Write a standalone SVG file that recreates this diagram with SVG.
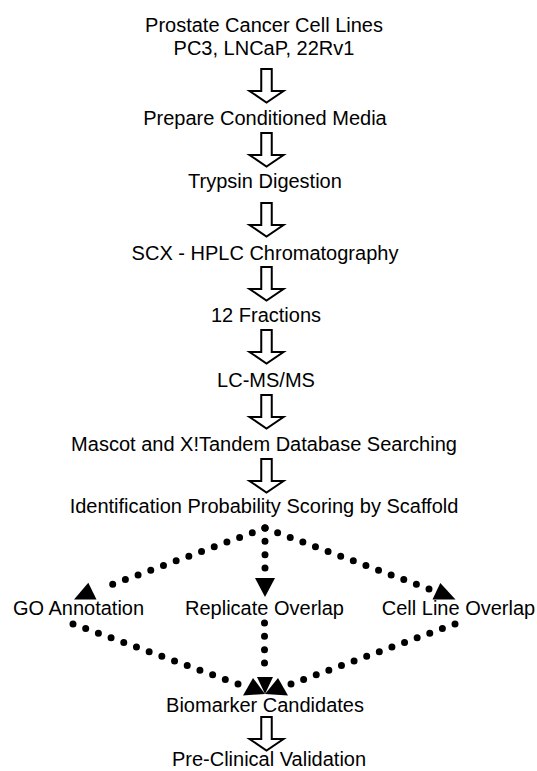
<svg xmlns="http://www.w3.org/2000/svg" width="537" height="771" viewBox="0 0 537 771">
<style>
text{font-family:"Liberation Sans",Arial,sans-serif;font-size:20px;fill:#000;text-anchor:middle}
.blk{fill:#fff;stroke:#000;stroke-width:2;stroke-linejoin:miter}
.dot{fill:none;stroke:#000;stroke-width:7;stroke-linecap:round;stroke-dasharray:0 1}
.head{fill:#000;stroke:none}
</style>
<defs>
<path id="blockArrow" class="blk" d="M-5.25,0 H5.25 V22 H17 L0,33.5 L-17,22 H-5.25 Z"/>
</defs>
<rect width="537" height="771" fill="#fff"/>
<g id="n1"><text x="264" y="32">Prostate Cancer Cell Lines</text><text x="264" y="55">PC3, LNCaP, 22Rv1</text></g>
<g id="n2"><text x="265" y="125">Prepare Conditioned Media</text></g>
<g id="n3"><text x="265" y="188">Trypsin Digestion</text></g>
<g id="n4"><text x="265" y="260">SCX - HPLC Chromatography</text></g>
<g id="n5"><text x="266" y="322">12 Fractions</text></g>
<g id="n6"><text x="266" y="387">LC-MS/MS</text></g>
<g id="n7"><text x="264" y="451">Mascot and X!Tandem Database Searching</text></g>
<g id="n8"><text x="264" y="513">Identification Probability Scoring by Scaffold</text></g>
<g id="n9"><text x="78.5" y="615">GO Annotation</text></g>
<g id="n10"><text x="264.5" y="615">Replicate Overlap</text></g>
<g id="n11"><text x="458.5" y="615">Cell Line Overlap</text></g>
<g id="n12"><text x="265" y="712">Biomarker Candidates</text></g>
<g id="n13"><text x="269" y="766">Pre-Clinical Validation</text></g>
<g id="connectors">
<use href="#blockArrow" x="266.5" y="69"/>
<use href="#blockArrow" x="266.5" y="133"/>
<use href="#blockArrow" x="266.5" y="203"/>
<use href="#blockArrow" x="266.5" y="267"/>
<use href="#blockArrow" x="266.5" y="330"/>
<use href="#blockArrow" x="266.5" y="395"/>
<use href="#blockArrow" x="266.5" y="459"/>
<use href="#blockArrow" x="266.5" y="717"/>
<path class="dot" pathLength="13" d="M265,528 L100,589"/>
<path class="dot" pathLength="13" d="M265,528 L429,589"/>
<path class="dot" pathLength="3" d="M265,528 L265,568"/>
<polygon class="head" points="74,599.5 88.3,582.7 96.5,599.5"/>
<polygon class="head" points="432.5,599.5 440.3,583 455.5,599.5"/>
<polygon class="head" points="255,578 275,578 265,597"/>
<path class="dot" pathLength="13" d="M73,624 L238,684"/>
<path class="dot" pathLength="13" d="M455,624 L291,684"/>
<path class="dot" pathLength="3" d="M264.5,623 L264.5,663"/>
<polygon class="head" points="257,677 273,677 265,694"/>
<polygon class="head" points="243,695.5 253,678 265,694"/>
<polygon class="head" points="265,694 278,678 288,695.5"/>
</g>
</svg>
